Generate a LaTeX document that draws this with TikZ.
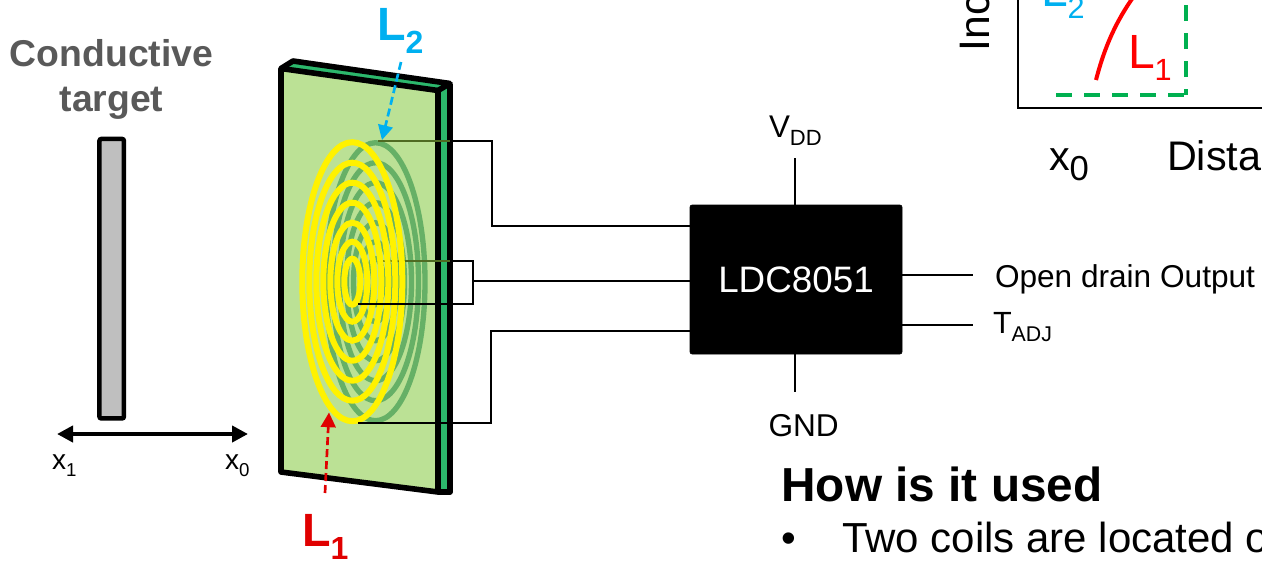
\documentclass[tikz,border=0pt]{standalone}
\usepackage{fontspec}
\setmainfont{Liberation Sans}
\usetikzlibrary{arrows.meta}
\definecolor{panelg}{HTML}{BBE195}
\definecolor{edgeg}{HTML}{2CB86C}
\definecolor{coilg}{HTML}{66B066}
\definecolor{cyanl}{HTML}{00B0F0}
\definecolor{dashg}{HTML}{00B050}
\definecolor{redl}{HTML}{E00000}
\definecolor{grayt}{HTML}{595959}
\definecolor{olive}{HTML}{4F6B22}
\newcommand{\fs}[1]{\fontsize{#1}{#1}\selectfont}
% size (pt), base, subscript size, subscript
\newcommand{\lbl}[4]{{\fs{#1}#2\raisebox{-0.26em}{\fs{#3}#4}}}
\tikzset{
  lab/.style={inner sep=0pt,outer sep=0pt,text=black},
  blab/.style={lab,anchor=base west},
  wire/.style={line width=1.4pt,draw=black},
  oliveWire/.style={line width=1.4pt,draw=olive},
  panel/.style={draw=black,line width=4.2pt,line join=round},
  coily/.style={draw=yellow,line width=4.5pt},
  coilgr/.style={draw=coilg,line width=4pt},
}
\begin{document}
\begin{tikzpicture}[x=0.75pt,y=-0.75pt]
\useasboundingbox (0,0) rectangle (1262,561);
\clip (0,0) rectangle (1262,561);
% target
\node[lab,text=grayt,font=\bfseries\fs{28},anchor=base] (cond) at (111.5,66.7) {Conductive};
\node[lab,text=grayt,font=\bfseries\fs{28},anchor=base] (targ) at (111.5,111.7) {target};
\node[draw=black,line width=3.4pt,fill=black!25,minimum width=24.5*0.75pt,minimum height=279.5*0.75pt,inner sep=0pt,rounded corners=1.5pt] (bar) at (111.7,278.7) {};
\coordinate (xl) at (57,434);
\coordinate (xr) at (248,434);
\draw[line width=3.6pt,{Triangle[length=12pt,width=12pt]}-{Triangle[length=12pt,width=12pt]}] (xl) -- (xr);
\node[blab] (xone) at (52,469) {\lbl{21}{x}{14}{1}};
\node[blab] (xzero) at (225,469) {\lbl{21}{x}{14}{0}};
% panel
\fill[edgeg] (281,68.5) -- (293,61) -- (450,83.5) -- (438,90.5) -- cycle;
\fill[edgeg] (438,90.5) -- (450,83.5) -- (450,492) -- (438,492) -- cycle;
\fill[panelg] (281,68.5) -- (438,90.5) -- (438,492) -- (281,472) -- cycle;
% green coil
\foreach \ry/\rx in {139/49.5,119/43,99/36,79/29,59/22,40/15,23/8}
  \draw[coilgr] (375.5,281.7) ellipse [x radius=\rx, y radius=\ry];
\draw[panel] (281,472) -- (281,68.5) -- (438,90.5) -- (438,492) -- cycle;
\draw[panel] (281,68.5) -- (293,61) -- (450,83.5) -- (438,90.5);
\draw[panel] (450,83.5) -- (450,492) -- (438,492);
% wires inside the panel
\coordinate (coiltop) at (378,141);
\coordinate (coilin) at (378,261);
\coordinate (coilmid) at (358,304);
\coordinate (coilbot) at (358,423);
\coordinate (ptop) at (450,141);
\coordinate (pin) at (450,261);
\draw[oliveWire] (coiltop) -- (ptop);
\draw[oliveWire] (coilin) -- (pin);
% yellow coil
\foreach \ry/\rx in {139.5/50,119/43,99/36,79/29,59/22,40/15,23/8}
  \draw[coily] (352.3,281.7) ellipse [x radius=\rx, y radius=\ry];
% chip
\node[fill=black,draw=black,rounded corners=1.5pt,minimum width=212*0.75pt,minimum height=149*0.75pt,inner sep=0pt,text=white,font=\fs{27.6}] (chip) at (796,279.5) {LDC8051};
% wires
\coordinate (ca) at (chip.west |- 0,226);
\coordinate (cb) at (chip.west |- 0,281);
\coordinate (cc) at (chip.west |- 0,331);
\draw[wire] (ptop) -- (492,141) -- (492,226) -- (ca);
\draw[wire] (pin) -- (473,261) -- (473,304) -- (coilmid);
\draw[wire] (473,281) -- (cb);
\draw[wire] (coilbot) -- (491,423) -- (491,331) -- (cc);
\node[blab] (vdd) at (769,137.5) {\lbl{23.5}{V}{16.5}{DD}};
\coordinate (vt) at (795,158);
\draw[wire] (vt) -- (chip.north -| vt);
\node[blab,font=\fs{23.7}] (gnd) at (768.5,436) {GND};
\coordinate (gt) at (795,392);
\draw[wire] (chip.south -| gt) -- (gt);
\node[lab,font=\fs{23.7},anchor=west] (odo) at (995,279) {Open drain Output};
\coordinate (oe) at (973,275);
\draw[wire] (chip.east |- oe) -- (oe);
\node[lab,anchor=west] (tadj) at (993,327) {\lbl{23}{T}{16}{ADJ}};
\coordinate (te) at (973,325);
\draw[wire] (chip.east |- te) -- (te);
% L labels and arrows
\node[lab,text=redl,font=\bfseries,anchor=west] (lone) at (302,537) {\lbl{35}{L}{24}{1}};
\node[lab,text=cyanl,font=\bfseries,anchor=west] (ltwo) at (377,31) {\lbl{35}{L}{24}{2}};
\coordinate (rs) at (325,493);
\coordinate (rt) at (329,412.5);
\coordinate (bs) at (401,62);
\coordinate (bt) at (382,140);
\draw[draw=redl,line width=2pt,dash pattern=on 6pt off 3pt,-{Triangle[length=11pt,width=11pt]}] (rs) -- (rt);
\draw[draw=cyanl,line width=2pt,dash pattern=on 6pt off 3pt,-{Triangle[length=11pt,width=11pt]}] (bs) -- (bt);
% text bottom
\node[blab,font=\bfseries\fs{35.8}] (how) at (781.5,501) {How is it used};
\node[blab,font=\fs{31.5}] (bul) at (781,552.7) {•};
\node[blab,font=\fs{31.5}] (two) at (842,552.7) {Two coils are located o};
% graph
\coordinate (ax0) at (1018,-4);
\coordinate (ax1) at (1018,108);
\coordinate (ax2) at (1266,108);
\draw[line width=2.2pt] (ax0) -- (ax1) -- (ax2);
\coordinate (d0) at (1056,95);
\coordinate (d1) at (1185.5,95);
\coordinate (d2) at (1185.5,-4);
\draw[draw=dashg,line width=3pt,dash pattern=on 12pt off 9pt] (d0) -- (d1);
\draw[draw=dashg,line width=3pt,dash pattern=on 12pt off 9pt,dash phase=7.5pt] (d1) -- (d2);
\coordinate (r0) at (1096,80);
\coordinate (r1) at (1134,-4);
\draw[draw=red,line width=3pt] (r0) .. controls (1105,45) and (1117,20) .. (r1);
\node[blab,text=red] (glone) at (1128,68) {\lbl{36}{L}{23}{1}};
\node[blab,text=cyanl] (gltwo) at (1041,6) {\lbl{36}{L}{23}{2}};
\node[lab,rotate=90,font=\fs{32},anchor=base west] (inc) at (989,51) {Inc};
\node[blab] (gx) at (1049,170) {\lbl{31}{x}{26}{0}};
\node[blab,font=\fs{31}] (dist) at (1167,170) {Distance};
\end{tikzpicture}
\end{document}
